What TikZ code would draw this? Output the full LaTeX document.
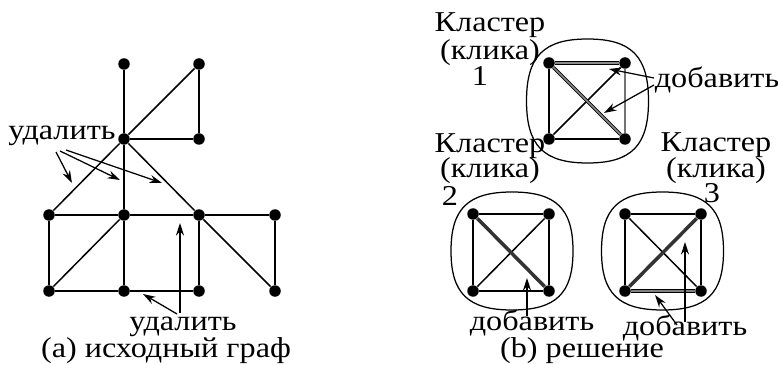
\documentclass[tikz,border=0pt]{standalone}
\usepackage{fontspec}
\setmainfont[FakeStretch=1.12]{Liberation Serif}
\usetikzlibrary{arrows.meta}
\newcommand\clusterblob[4]{%
  \draw[blobline] ({#1},{#2-#4})
    .. controls ({#1+0.72*#3},{#2-#4}) and ({#1+#3},{#2-0.72*#4}) .. ({#1+#3},{#2})
    .. controls ({#1+#3},{#2+0.72*#4}) and ({#1+0.72*#3},{#2+#4}) .. ({#1},{#2+#4})
    .. controls ({#1-0.72*#3},{#2+#4}) and ({#1-#3},{#2+0.72*#4}) .. ({#1-#3},{#2})
    .. controls ({#1-#3},{#2-0.72*#4}) and ({#1-0.72*#3},{#2-#4}) .. ({#1},{#2-#4}) -- cycle;}
\tikzset{
  vtx/.style={circle,fill=black,inner sep=0pt,minimum size=4.6pt},
  gedge/.style={line width=0.6pt},
  grayedge/.style={line width=0.6pt,black!55},
  dbledge/.style={line width=0.4pt,double=black!45,double distance=0.6pt},
  dblwide/.style={line width=0.4pt,double=black!50,double distance=0.9pt},
  thickedge/.style={line width=1.4pt,black!80},
  blobline/.style={line width=0.5pt},
  lbl/.style={font=\fontsize{11.5}{13}\selectfont,anchor=base,inner sep=0pt},
  ptr/.style={line width=0.5pt,-{Stealth[length=5pt,width=3.2pt]}},
}
\begin{document}
\begin{tikzpicture}[x=0.4pt,y=-0.4pt]
\useasboundingbox (0,0) rectangle (778,365);
% ---------- (a) original graph ----------
\node[vtx] (A) at (124,64) {};
\node[vtx] (B) at (199,64) {};
\node[vtx] (C) at (124,139) {};
\node[vtx] (D) at (199,139) {};
\node[vtx] (E) at (49,215) {};
\node[vtx] (F) at (124,215) {};
\node[vtx] (G) at (199,215) {};
\node[vtx] (H) at (275,215) {};
\node[vtx] (I) at (49,291) {};
\node[vtx] (J) at (124,291) {};
\node[vtx] (K) at (199,291) {};
\node[vtx] (L) at (275,291) {};
\draw[gedge] (A) -- (C);
\draw[gedge] (B) -- (C);
\draw[gedge] (B) -- (D);
\draw[gedge] (C) -- (D);
\draw[gedge] (C) -- (E);
\draw[gedge] (C) -- (F);
\draw[gedge] (C) -- (G);
\draw[gedge] (E) -- (F);
\draw[gedge] (F) -- (G);
\draw[gedge] (G) -- (H);
\draw[gedge] (E) -- (I);
\draw[gedge] (F) -- (I);
\draw[gedge] (F) -- (J);
\draw[gedge] (I) -- (J);
\draw[gedge] (J) -- (K);
\draw[gedge] (G) -- (K);
\draw[gedge] (G) -- (L);
\draw[gedge] (H) -- (L);
\node[lbl] (del1) at (62,140) {удалить};
\coordinate (s1) at (56,152); \coordinate (t1) at (72,183);
\coordinate (s2) at (60,151); \coordinate (t2) at (120,180);
\coordinate (s3) at (66,150); \coordinate (t3) at (162,183);
\draw[ptr] (s1) -- (t1);
\draw[ptr] (s2) -- (t2);
\draw[ptr] (s3) -- (t3);
\node[lbl] (del2) at (183,330) {удалить};
\coordinate (s4) at (180,313); \coordinate (t4) at (180,223);
\coordinate (s5) at (177,314); \coordinate (t5) at (143,294);
\draw[ptr] (s4) -- (t4);
\draw[ptr] (s5) -- (t5);
\node[lbl] (capa) at (166,357) {(a) исходный граф};
% ---------- (b) solution ----------
\clusterblob{587.5}{101}{61}{62}
\clusterblob{512}{251}{61}{59}
\clusterblob{662.5}{251}{61}{59}
% cluster 1
\node[vtx] (P1) at (549,63) {};
\node[vtx] (P2) at (625,63) {};
\node[vtx] (P3) at (549,139) {};
\node[vtx] (P4) at (625,139) {};
\draw[gedge] (P1) -- (P3);
\draw[gedge] (P3) -- (P4);
\draw[gedge] (P3) -- (P2);
\draw[grayedge] (P2) -- (P4);
\draw[dbledge] (P1) -- (P2);
\draw[dbledge] (P1) -- (P4);
\node[lbl] (k1a) at (490,32) {Кластер};
\node[lbl] (k1b) at (490,60) {(клика)};
\node[lbl] (k1c) at (480,86) {1};
\node[lbl] (add1) at (717,88) {добавить};
\coordinate (s6) at (654,78); \coordinate (t6) at (609,69);
\coordinate (s7) at (654,85); \coordinate (t7) at (604,113);
\draw[ptr] (s6) -- (t6);
\draw[ptr] (s7) -- (t7);
% cluster 2
\node[vtx] (Q1) at (473,214) {};
\node[vtx] (Q2) at (549,214) {};
\node[vtx] (Q3) at (473,291) {};
\node[vtx] (Q4) at (549,291) {};
\draw[gedge] (Q1) -- (Q2);
\draw[gedge] (Q1) -- (Q3);
\draw[gedge] (Q2) -- (Q4);
\draw[gedge] (Q3) -- (Q4);
\draw[gedge] (Q3) -- (Q2);
\draw[thickedge] (Q1) -- (Q4);
\node[lbl] (k2a) at (490,153) {Кластер};
\node[lbl] (k2b) at (490,178) {(клика)};
\node[lbl] (k2c) at (450,206) {2};
\node[lbl] (add2) at (532,330) {добавить};
\coordinate (s8) at (527,316); \coordinate (t8) at (527,278);
\draw[ptr] (s8) -- (t8);
% cluster 3
\node[vtx] (R1) at (625,214) {};
\node[vtx] (R2) at (701,214) {};
\node[vtx] (R3) at (625,291) {};
\node[vtx] (R4) at (701,291) {};
\draw[gedge] (R1) -- (R2);
\draw[gedge] (R1) -- (R3);
\draw[gedge] (R2) -- (R4);
\draw[gedge] (R1) -- (R4);
\draw[thickedge] (R3) -- (R2);
\draw[dblwide] (R3) -- (R4);
\node[lbl] (k3a) at (716,152) {Кластер};
\node[lbl] (k3b) at (716,178) {(клика)};
\node[lbl] (k3c) at (712,203) {3};
\node[lbl] (add3) at (685,335) {добавить};
\coordinate (s9) at (685,322); \coordinate (t9) at (685,242);
\coordinate (s10) at (677,325); \coordinate (t10) at (655,295);
\draw[ptr] (s9) -- (t9);
\draw[ptr] (s10) -- (t10);
\node[lbl] (capb) at (582,357) {(b) решение};
\end{tikzpicture}
\end{document}
